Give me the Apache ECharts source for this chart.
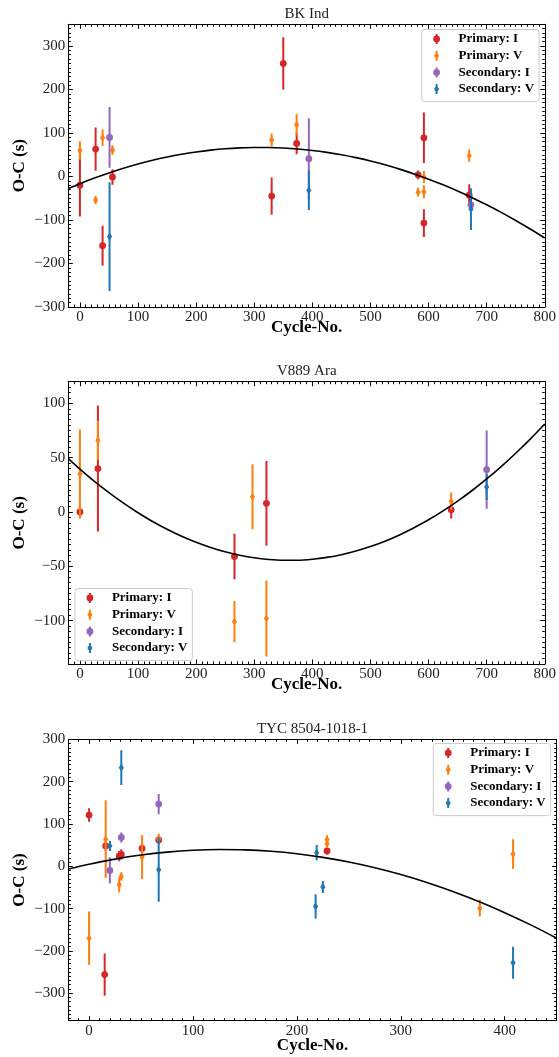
<!DOCTYPE html>
<html>
<head>
<meta charset="utf-8">
<script src="https://cdn.jsdelivr.net/npm/echarts@6/dist/echarts.min.js"></script>
<style>
  html, body { margin: 0; padding: 0; background: #fff; }
  #chart { width: 559px; height: 1057px; }
</style>
</head>
<body>
<div id="chart"></div>
<script>
// Each timing: [cycle, O-C in seconds, error in seconds]

// ---- BK Ind ----
const bkPrimaryI = [[0, -20, 72], [27, 63, 50], [39, -159, 46], [56, -1, 18], [330, -45, 43],
  [350, 260, 60], [373, 76, 25], [582, 4, 10], [592, 89, 58], [592, -107, 32], [670, -43, 25]];
const bkPrimaryV = [[0, 60, 21], [27, -54, 9], [39, 89, 19], [56, 61, 11], [330, 84, 15],
  [373, 119, 24], [582, -36, 10], [592, -1, 14], [592, -35, 15], [670, 48, 14]];
const bkSecondaryI = [[51, 90, 70], [394, 41, 93], [673, -65, 14]];
const bkSecondaryV = [[51, -138, 125], [394, -32, 45], [673, -75, 48]];
// quadratic ephemeris curve
const bkFit = [[-20, -27.5], [0, -16.4], [25, -3.5], [50, 8.3], [75, 19.1], [100, 28.7], [125, 37.3],
  [150, 44.8], [175, 51.2], [200, 56.5], [225, 60.7], [250, 63.9], [275, 65.9], [300, 66.9],
  [325, 66.8], [350, 65.6], [375, 63.3], [400, 60.0], [425, 55.5], [450, 50.0], [475, 43.4],
  [500, 35.7], [525, 26.9], [550, 17.0], [575, 6.0], [600, -6.0], [625, -19.1], [650, -33.3],
  [675, -48.6], [700, -65.0], [725, -82.5], [750, -101.0], [775, -120.7], [800, -141.4]];
const bkXTicks = [0, 100, 200, 300, 400, 500, 600, 700, 800];
const bkYTicks = [-300, -200, -100, 0, 100, 200, 300];

// ---- V889 Ara ----
const araPrimaryI = [[0, 0, 5], [31, 40, 58], [266, -41, 21], [321, 8, 39], [639, 2, 8]];
const araPrimaryV = [[0, 35, 41], [31, 66, 18], [266, -101, 19], [297, 14, 30], [321, -98, 35], [639, 10, 8]];
const araSecondaryI = [[700, 39, 36]];
const araSecondaryV = [[700, 23, 12]];
const araFit = [[-20, 49.1], [0, 39.5], [25, 28.2], [50, 17.8], [75, 8.1], [100, -0.7], [125, -8.7],
  [150, -15.9], [175, -22.3], [200, -27.9], [225, -32.7], [250, -36.7], [275, -39.8], [300, -42.2],
  [325, -43.7], [350, -44.4], [375, -44.4], [400, -43.5], [425, -41.8], [450, -39.3], [475, -35.9],
  [500, -31.8], [525, -26.9], [550, -21.1], [575, -14.5], [600, -7.2], [625, 1.0], [650, 10.0],
  [675, 19.8], [700, 30.4], [725, 41.8], [750, 54.1], [775, 67.1], [800, 81.0]];
const araXTicks = [0, 100, 200, 300, 400, 500, 600, 700, 800];
const araYTicks = [-100, -50, 0, 50, 100];

// ---- TYC 8504-1018-1 ----
const tycPrimaryI = [[0, 121, 16], [15, -256, 50], [16, 48, 10], [29, 24, 12], [31, 28, 12],
  [51, 42, 12], [67, 62, 10], [229, 36, 8]];
const tycPrimaryV = [[0, -170, 63], [16, 64, 92], [29, -44, 18], [31, -24, 10], [51, 22, 52],
  [67, 65, 12], [229, 63, 10], [229, 53, 8], [376, -99, 20], [408, 29, 35]];
const tycSecondaryI = [[20, -10, 31], [31, 68, 12], [67, 147, 24]];
const tycSecondaryV = [[20, 48, 12], [31, 233, 41], [67, -8, 76], [218, -95, 29], [219, 32, 18],
  [225, -49, 14], [408, -228, 38]];
const tycFit = [[-20, -6.5], [0, 4.9], [25, 16.9], [50, 26.4], [75, 33.3], [100, 37.7], [125, 39.4],
  [150, 38.7], [175, 35.4], [200, 29.5], [225, 21.0], [250, 10.0], [275, -3.5], [300, -19.6],
  [325, -38.3], [350, -59.5], [375, -83.3], [400, -109.7], [425, -138.6], [450, -170.0]];
const tycXTicks = [0, 100, 200, 300, 400];
const tycYTicks = [-300, -200, -100, 0, 100, 200, 300];

const seriesNames = ['Primary: I', 'Primary: V', 'Secondary: I', 'Secondary: V'];
const seriesColors = ['#d62728', '#ff7f0e', '#9467bd', '#1f77b4'];
const seriesShapes = ['circle', 'diamond', 'circle', 'diamond'];

const FONT = 'Liberation Serif';
const INK = '#000';

const panels = [
  { title: 'BK Ind', grid: { left: 68.3, top: 24.3, width: 477, height: 282.7 },
    x: [-20, 800], y: [-300, 350], xTicks: bkXTicks, yTicks: bkYTicks, xMinor: 10, yMinor: 10,
    xNameGap: 12.5, sets: [bkPrimaryI, bkPrimaryV, bkSecondaryI, bkSecondaryV], fit: bkFit,
    legend: { left: 421.7, top: 29.5 } },
  { title: 'V889 Ara', grid: { left: 68.3, top: 381.7, width: 477, height: 282.3 },
    x: [-20, 800], y: [-140, 120], xTicks: araXTicks, yTicks: araYTicks, xMinor: 10, yMinor: 5,
    xNameGap: 12.5, sets: [araPrimaryI, araPrimaryV, araSecondaryI, araSecondaryV], fit: araFit,
    legend: { left: 75, top: 588.5 } },
  { title: 'TYC 8504-1018-1', grid: { left: 68.3, top: 739.3, width: 488.4, height: 281.4 },
    x: [-20, 450], y: [-365, 300], xTicks: tycXTicks, yTicks: tycYTicks, xMinor: 10, yMinor: 10,
    xNameGap: 16.5, sets: [tycPrimaryI, tycPrimaryV, tycSecondaryI, tycSecondaryV], fit: tycFit,
    legend: { left: 433.3, top: 743.5 } }
];

function steps(lo, hi, step) {
  const out = [];
  for (let v = Math.ceil(lo / step) * step; v <= hi + 1e-9; v += step) out.push(Math.round(v * 1000) / 1000);
  return out;
}
const minusSign = v => String(v).replace('-', '\u2212');
const thin = { color: INK, width: 1 };

// four stacked axes per direction: labelled major, minor, mirrored major, mirrored minor
function axisSet(dim, g, p) {
  const isX = dim === 'x';
  const [lo, hi] = isX ? p.x : p.y;
  const major = isX ? p.xTicks : p.yTicks;
  const minor = steps(lo, hi, isX ? p.xMinor : p.yMinor);
  const sides = isX ? ['bottom', 'top'] : ['left', 'right'];
  const base = { type: 'value', gridIndex: g, min: lo, max: hi, splitLine: { show: false } };
  const make = (side, ticks, len, line, labelled) => {
    const ax = Object.assign({}, base, {
      position: side,
      axisLine: { show: line, onZero: false, lineStyle: thin },
      axisTick: { show: true, inside: true, length: len, customValues: ticks, lineStyle: thin },
      axisLabel: { show: false }
    });
    if (labelled) {
      ax.axisLabel = { show: true, customValues: major, margin: 3, fontFamily: FONT, fontSize: 15,
        color: '#222', formatter: minusSign };
      ax.name = isX ? 'Cycle-No.' : 'O-C (s)';
      ax.nameLocation = 'middle';
      ax.nameGap = isX ? p.xNameGap : 40;
      ax.nameMoveOverlap = false;
      ax.nameTextStyle = { fontFamily: FONT, fontWeight: 'bold', fontSize: 17, color: INK };
    }
    return ax;
  };
  return [
    make(sides[0], major, 4.5, true, true),
    make(sides[0], minor, 2.5, false, false),
    make(sides[1], major, 4.5, true, false),
    make(sides[1], minor, 2.5, false, false)
  ];
}

// error bar with its marker, placed through the axes' scales
function errorBarRenderer(shape) {
  return function (params, api) {
    const x = api.value(0), y = api.value(1), e = api.value(2);
    const c = api.coord([x, y]);
    const hi = api.coord([x, y + e]);
    const lo = api.coord([x, y - e]);
    const color = api.visual('color');
    const children = [{
      type: 'line',
      shape: { x1: c[0], y1: hi[1], x2: c[0], y2: lo[1] },
      style: { stroke: color, lineWidth: 2 }
    }];
    if (shape === 'circle') {
      children.push({ type: 'circle', shape: { cx: c[0], cy: c[1], r: 3.4 }, style: { fill: color } });
    } else {
      children.push({ type: 'polygon',
        shape: { points: [[c[0], c[1] - 3.9], [c[0] + 2.6, c[1]], [c[0], c[1] + 3.9], [c[0] - 2.6, c[1]]] },
        style: { fill: color } });
    }
    return { type: 'group', children };
  };
}

const legendIcons = {
  circle: 'path://M3,0H5V10H3Z M0.6,5A3.4,3.4,0,1,1,7.4,5A3.4,3.4,0,1,1,0.6,5Z',
  diamond: 'path://M3,0H5V10H3Z M4,1.1L6.6,5L4,8.9L1.4,5Z'
};

const xAxis = [], yAxis = [], series = [], grid = [], legend = [], graphic = [];
panels.forEach((p, g) => {
  grid.push(Object.assign({ containLabel: false }, p.grid));
  xAxis.push(...axisSet('x', g, p));
  yAxis.push(...axisSet('y', g, p));
  const xi = 4 * g, yi = 4 * g;
  p.sets.forEach((data, k) => {
    series.push({
      type: 'custom', name: seriesNames[k], xAxisIndex: xi, yAxisIndex: yi,
      data: data, renderItem: errorBarRenderer(seriesShapes[k]),
      itemStyle: { color: seriesColors[k] }, clip: true, silent: true
    });
  });
  series.push({
    type: 'line', name: 'fit', xAxisIndex: xi, yAxisIndex: yi, data: p.fit,
    smooth: 0.3, symbol: 'none', showSymbol: false, silent: true, clip: true,
    lineStyle: { color: INK, width: 1.6 }
  });
  legend.push({
    orient: 'vertical', left: p.legend.left, top: p.legend.top,
    itemWidth: 8, itemHeight: 10, itemGap: 2.7, padding: [2.5, 5, 5.5, 11.5],
    backgroundColor: 'rgba(255,255,255,0.8)', borderColor: '#cccccc', borderWidth: 1, borderRadius: 3,
    selectedMode: false,
    textStyle: { fontFamily: FONT, fontWeight: 'bold', fontSize: 13, color: INK, lineHeight: 14,
      padding: [0, 0, 0, 13] },
    data: seriesNames.map((n, k) => ({
      name: n, icon: legendIcons[seriesShapes[k]],
      itemStyle: { color: seriesColors[k], borderWidth: 0 }
    }))
  });
  graphic.push({
    type: 'text', x: p.grid.left + p.grid.width / 2, y: p.grid.top - 10.5, silent: true,
    style: { text: p.title, font: '15px "' + FONT + '"', fill: '#222', textAlign: 'center', textVerticalAlign: 'middle' }
  });
});

const chart = echarts.init(document.getElementById('chart'), null, { renderer: 'canvas' });
chart.setOption({
  backgroundColor: '#fff',
  animation: false,
  grid, xAxis, yAxis, series, legend, graphic
});
</script>
</body>
</html>
